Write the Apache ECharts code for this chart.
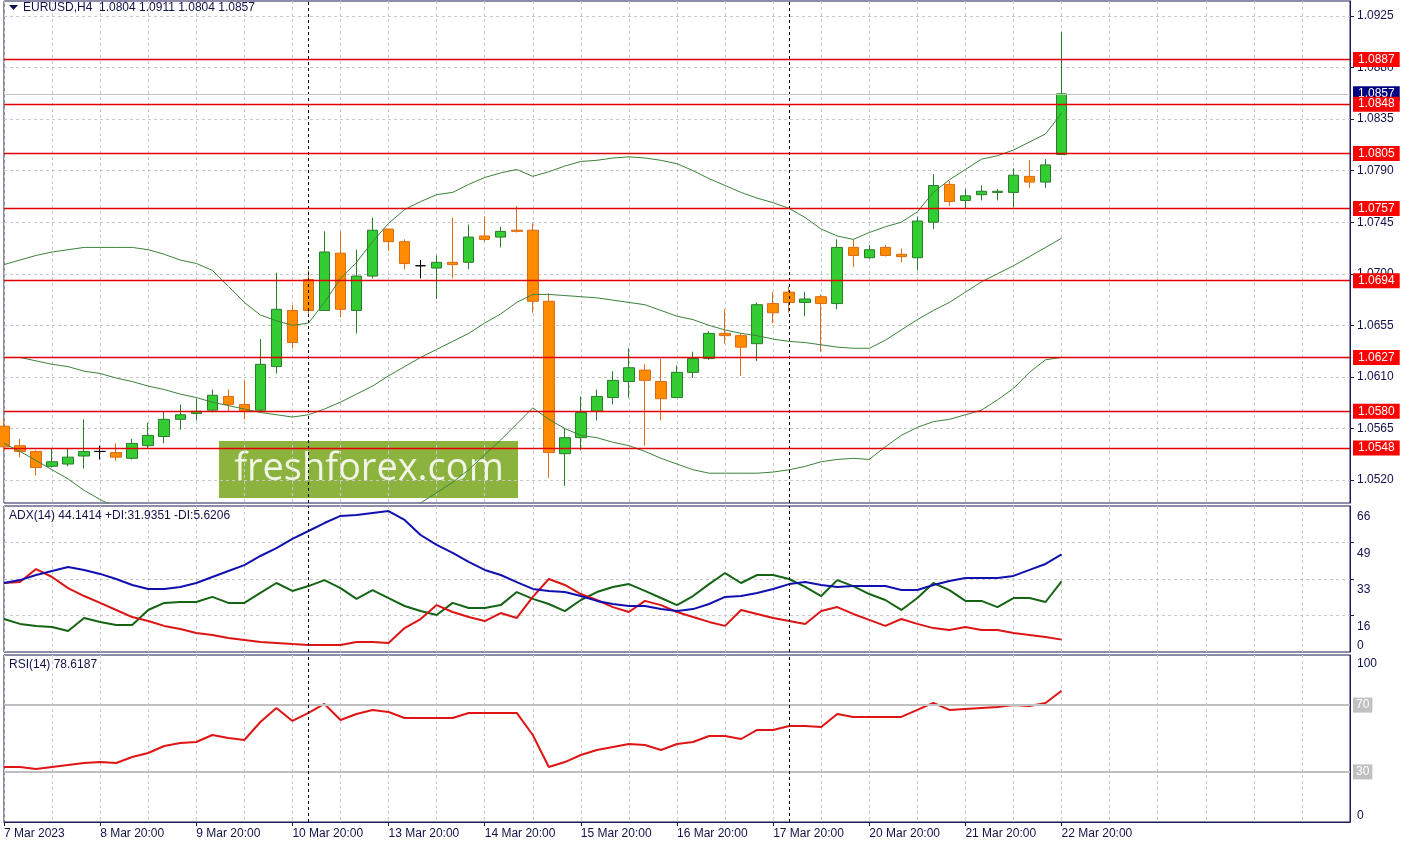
<!DOCTYPE html>
<html>
<head>
<meta charset="utf-8">
<title>EURUSD H4</title>
<script src="https://cdn.jsdelivr.net/npm/echarts@6.0.0/dist/echarts.min.js"></script>
<style>
html,body{margin:0;padding:0;background:#ffffff;}
#chart{width:1410px;height:843px;}
</style>
</head>
<body>
<div id="chart"></div>
<script>
// ---------- time axis ----------
const firstBar = '7 Mar 20:00';
const tradingDays = ['8 Mar','9 Mar','10 Mar','13 Mar','14 Mar','15 Mar','16 Mar','17 Mar','20 Mar','21 Mar','22 Mar'];
const h4Hours = ['00:00','04:00','08:00','12:00','16:00','20:00'];
const firstLabel = '7 Mar 2023';
const separators = ['13 Mar 00:00','20 Mar 00:00'];
const padBars = 18;

// ---------- price candles (H4) ----------
const open = [1.0567,1.0550,1.0545,1.0532,1.0534,1.0541,1.0545,1.0544,1.0539,1.0550,
  1.0558,1.0573,1.0578,1.0581,1.0593,1.0586,1.0581,1.0619,1.0668,1.0695,
  1.0668,1.0718,1.0668,1.0698,1.0739,1.0728,1.0707,1.0705,1.0710,1.0710,
  1.0733,1.0732,1.0738,1.0738,1.0676,1.0543,1.0557,1.0580,1.0592,1.0606,
  1.0616,1.0606,1.0592,1.0614,1.0626,1.0648,1.0646,1.0639,1.0674,1.0684,
  1.0675,1.0680,1.0674,1.0723,1.0714,1.0723,1.0717,1.0714,1.0745,1.0778,
  1.0764,1.0769,1.0771,1.0771,1.0785,1.0780,1.0804];
const close = [1.0549,1.0545,1.0531,1.0536,1.0540,1.0545,1.0545,1.0540,1.0552,1.0559,
  1.0573,1.0577,1.0580,1.0594,1.0586,1.0580,1.0621,1.0669,1.0640,1.0668,
  1.0719,1.0669,1.0698,1.0738,1.0728,1.0709,1.0707,1.0710,1.0708,1.0732,
  1.0730,1.0737,1.0737,1.0676,1.0544,1.0557,1.0579,1.0593,1.0607,1.0618,
  1.0607,1.0591,1.0614,1.0626,1.0648,1.0646,1.0636,1.0673,1.0666,1.0675,
  1.0678,1.0674,1.0723,1.0716,1.0721,1.0716,1.0715,1.0746,1.0777,1.0763,
  1.0768,1.0772,1.0772,1.0786,1.0780,1.0795,1.0857];
const low = [1.0545,1.0540,1.0524,1.0531,1.0532,1.0530,1.0538,1.0537,1.0538,1.0548,
  1.0552,1.0564,1.0572,1.0579,1.0580,1.0573,1.0580,1.0613,1.0635,1.0662,
  1.0668,1.0662,1.0648,1.0696,1.0720,1.0704,1.0696,1.0678,1.0696,1.0704,
  1.0728,1.0723,1.0736,1.0666,1.0522,1.0515,1.0546,1.0572,1.0586,1.0592,
  1.0550,1.0572,1.0592,1.0609,1.0625,1.0639,1.0611,1.0624,1.0657,1.0666,
  1.0663,1.0632,1.0669,1.0706,1.0713,1.0715,1.0710,1.0703,1.0739,1.0759,
  1.0757,1.0764,1.0764,1.0758,1.0775,1.0775,1.0804];
const high = [1.0574,1.0556,1.0546,1.0548,1.0548,1.0573,1.0550,1.0552,1.0556,1.0570,
  1.0580,1.0586,1.0591,1.0599,1.0599,1.0607,1.0643,1.0701,1.0673,1.0703,
  1.0737,1.0737,1.0721,1.0749,1.0739,1.0730,1.0712,1.0716,1.0749,1.0743,
  1.0750,1.0741,1.0759,1.0744,1.0683,1.0565,1.0593,1.0599,1.0615,1.0635,
  1.0621,1.0626,1.0620,1.0632,1.0650,1.0669,1.0648,1.0675,1.0684,1.0689,
  1.0684,1.0682,1.0730,1.0730,1.0725,1.0725,1.0722,1.0750,1.0787,1.0781,
  1.0774,1.0777,1.0774,1.0792,1.0799,1.0800,1.0911];

// ---------- Bollinger bands ----------
const bbUpper = [1.0708,1.0712,1.0716,1.0719,1.0721,1.0723,1.0723,1.0723,1.0723,1.0721,
  1.0717,1.0712,1.0709,1.0703,1.0689,1.0675,1.0664,1.0659,1.0655,1.0657,
  1.0675,1.0696,1.0710,1.0728,1.0744,1.0756,1.0763,1.0769,1.0771,1.0778,
  1.0784,1.0788,1.0791,1.0785,1.0789,1.0794,1.0798,1.0799,1.0801,1.0802,
  1.0801,1.0799,1.0796,1.0790,1.0783,1.0777,1.0771,1.0766,1.0762,1.0757,
  1.0749,1.0739,1.0733,1.0730,1.0736,1.0741,1.0745,1.0754,1.0771,1.0782,
  1.0791,1.0800,1.0803,1.0808,1.0815,1.0822,1.0840];
const bbMiddle = [1.0627,1.0627,1.0624,1.0621,1.0619,1.0615,1.0613,1.0609,1.0606,1.0602,
  1.0599,1.0595,1.0592,1.0588,1.0585,1.0582,1.0579,1.0577,1.0575,1.0577,
  1.0582,1.0588,1.0595,1.0602,1.0611,1.0619,1.0627,1.0634,1.0641,1.0648,
  1.0657,1.0665,1.0675,1.0682,1.0682,1.0681,1.0680,1.0679,1.0677,1.0675,
  1.0673,1.0668,1.0663,1.0660,1.0655,1.0651,1.0648,1.0646,1.0643,1.0641,
  1.0640,1.0638,1.0636,1.0635,1.0635,1.0642,1.0651,1.0660,1.0668,1.0675,
  1.0684,1.0693,1.0700,1.0707,1.0715,1.0723,1.0731];
const bbLower = [1.0552,1.0545,1.0537,1.0529,1.0521,1.0511,1.0503,1.0496,1.0490,1.0485,
  1.0481,1.0478,1.0476,1.0475,1.0479,1.0485,1.0492,1.0495,1.0496,1.0496,
  1.0489,1.0482,1.0480,1.0477,1.0478,1.0487,1.0500,1.0509,1.0518,1.0529,
  1.0542,1.0555,1.0569,1.0583,1.0573,1.0565,1.0559,1.0557,1.0553,1.0550,
  1.0545,1.0539,1.0534,1.0529,1.0526,1.0526,1.0526,1.0526,1.0527,1.0529,
  1.0532,1.0536,1.0538,1.0539,1.0538,1.0549,1.0559,1.0566,1.0571,1.0573,
  1.0577,1.0581,1.0590,1.0600,1.0614,1.0625,1.0627];

// ---------- ADX(14) ----------
const adx = [31.2,32.5,34.8,36.6,38.4,37.1,35.3,33.0,30.3,28.5,
  28.5,29.4,31.2,33.9,36.6,39.3,43.4,47.0,51.1,54.7,
  58.3,61.5,61.9,62.8,63.7,59.7,52.9,48.4,44.8,40.7,
  37.1,34.8,31.6,28.5,27.6,27.1,25.3,23.1,21.7,20.8,
  20.8,19.4,18.5,19.4,21.7,24.9,25.3,26.7,28.5,30.7,
  31.6,30.3,29.4,29.8,29.8,29.8,28.0,28.0,30.3,32.1,
  33.5,33.5,33.5,34.4,37.1,39.8,44.1];
const plusDI = [14.9,12.7,11.8,11.3,9.5,15.4,13.6,12.2,12.2,19.0,
  22.2,22.6,22.6,24.9,22.2,22.2,26.7,31.2,27.6,29.8,
  32.5,28.9,24.0,28.0,24.4,20.8,18.5,16.7,22.2,19.9,
  19.9,21.2,27.1,24.0,21.7,18.5,23.5,27.1,29.4,30.7,
  27.6,24.4,21.2,25.3,30.7,35.7,31.2,34.8,34.8,33.0,
  29.4,25.3,32.5,29.8,26.2,23.5,19.0,24.4,31.2,28.0,
  23.1,23.1,20.3,24.4,24.4,22.6,31.9];
const minusDI = [31.2,31.6,37.5,33.9,28.9,25.3,22.2,19.0,15.8,14.0,
  11.8,10.4,8.6,7.7,6.3,5.4,4.5,4.1,3.6,3.2,
  3.2,3.2,4.5,4.5,4.1,10.8,14.9,21.2,18.1,15.8,
  14.0,17.6,15.4,24.9,33.0,30.3,26.2,23.5,20.3,18.1,
  23.1,21.2,18.1,15.8,13.6,11.8,19.0,17.2,15.4,14.0,
  12.7,18.5,20.3,17.2,14.5,11.8,14.9,12.7,10.8,9.9,
  11.3,9.9,9.9,8.6,7.7,6.8,5.6];

// ---------- RSI(14) ----------
const rsi = [32.9,32.9,31.7,32.9,34.1,35.3,35.9,35.3,38.9,41.3,
  45.5,47.3,47.9,52.1,50.3,49.1,59.9,68.3,60.5,65.3,
  70.7,61.1,64.7,67.1,65.9,62.3,62.3,62.3,62.3,65.3,
  65.3,65.3,65.3,52.1,32.9,35.9,40.1,43.1,44.9,46.7,
  46.1,43.1,46.7,47.9,51.5,51.5,49.7,55.1,55.1,57.5,
  57.5,56.9,64.7,62.9,62.9,62.9,62.9,67.1,71.3,67.1,
  67.7,68.3,68.9,70.1,69.5,71.3,78.6];

// ---------- levels & ticks ----------
const levels = [1.0887,1.0848,1.0805,1.0757,1.0694,1.0627,1.0580,1.0548];
const priceTicks = [1.0520,1.0565,1.0610,1.0655,1.0700,1.0745,1.0790,1.0835,1.0880,1.0925];
const adxTicks = [16.5,33,49.5,66];
const rsiLevels = [70,30];
const adxTitle = 'ADX(14) 44.1414 +DI:31.9351 -DI:5.6206';
const rsiTitle = 'RSI(14) 78.6187';

// ---------- build ----------
const categories = [firstBar];
tradingDays.forEach(d => h4Hours.forEach(h => categories.push(d + ' ' + h)));
for (let k = 0; k < padBars; k++) categories.push('pad' + k);
const ohlc = open.map((o, i) => [o, close[i], low[i], high[i]]);
const last = open.length - 1;

const FONT = '"Liberation Sans", Arial, "DejaVu Sans", sans-serif';
const INK = '#10104a';
const FRAME = '#1b1b55';
const GRIDC = '#c8c8c8';

const sepMarkLine = {
  silent: true, symbol: ['none', 'none'], animation: false,
  label: {show: false},
  lineStyle: {color: '#000000', type: [3, 3], width: 1},
  data: separators.map(s => ({xAxis: s}))
};

const labelTick = (i) => i <= last && i % 6 === 0;

function xAxisFor(gi, showLabels) {
  return {
    type: 'category', gridIndex: gi, data: categories, boundaryGap: false,
    axisLine: {show: showLabels, lineStyle: {color: FRAME}},
    axisTick: {show: showLabels, interval: labelTick, length: 4, lineStyle: {color: FRAME}},
    axisLabel: {
      show: showLabels, interval: labelTick, align: 'left', margin: 6,
      color: INK, fontSize: 12, fontFamily: FONT,
      formatter: (v, i) => i === 0 ? firstLabel : v
    },
    splitLine: {show: true, interval: 2, lineStyle: {color: GRIDC, type: [3, 3], width: 1}}
  };
}
const labelBase = {color: INK, fontSize: 12, fontFamily: FONT, margin: 7};

const levelItems = levels.map(v => ({
  yAxis: v,
  lineStyle: {color: '#e00000', width: 1.3, type: 'solid', opacity: 1},
  label: {backgroundColor: '#ff0000'}
}));
levelItems.unshift({
  yAxis: close[last],
  lineStyle: {color: '#c4c4c4', width: 1, type: 'solid'},
  label: {backgroundColor: '#000080'}
});

const option = {
  animation: false,
  backgroundColor: '#ffffff',
  title: [
    {text: 'EURUSD,H4  ' + [open[last], high[last], low[last], close[last]].map(v => v.toFixed(4)).join(' '),
     left: 23, top: 2, padding: 0,
     textStyle: {color: INK, fontSize: 12, fontWeight: 'normal', fontFamily: FONT}},
    {text: adxTitle, left: 9, top: 510, padding: 0,
     textStyle: {color: INK, fontSize: 12, fontWeight: 'normal', fontFamily: FONT}},
    {text: rsiTitle, left: 9, top: 659, padding: 0,
     textStyle: {color: INK, fontSize: 12, fontWeight: 'normal', fontFamily: FONT}}
  ],
  graphic: [
    {type: 'polygon', shape: {points: [[9, 5], [18, 5], [13.5, 10]]}, style: {fill: INK}, z: 60},
    {type: 'group', left: 219, top: 441, z: 60, children: [
      {type: 'rect', shape: {x: 0, y: 0, width: 299, height: 57}, style: {fill: '#8cb33e'}},
      {type: 'text', x: 150, y: 28,
       style: {text: 'freshforex.com', fill: 'rgba(255,255,255,0.88)', fontSize: 38,
               fontFamily: '"Open Sans", "Noto Sans", sans-serif', align: 'center', verticalAlign: 'middle'}}
    ]}
  ],
  grid: [
    {left: 4, right: 60, top: 1, height: 502, show: true, borderColor: FRAME, borderWidth: 1, backgroundColor: '#fff', containLabel: false},
    {left: 4, right: 60, top: 506, height: 146, show: true, borderColor: FRAME, borderWidth: 1, backgroundColor: '#fff', containLabel: false},
    {left: 4, right: 60, top: 655, height: 167, show: true, borderColor: FRAME, borderWidth: 1, backgroundColor: '#fff', containLabel: false}
  ],
  xAxis: [xAxisFor(0, false), xAxisFor(1, false), xAxisFor(2, true)],
  yAxis: [
    {type: 'value', gridIndex: 0, position: 'right', min: 1.0500, max: 1.0938,
     axisLine: {show: true, lineStyle: {color: FRAME}},
     axisTick: {show: true, length: 4, customValues: priceTicks, lineStyle: {color: FRAME}},
     axisLabel: Object.assign({customValues: priceTicks, formatter: v => Number(v).toFixed(4)}, labelBase),
     splitLine: {show: true, lineStyle: {color: GRIDC, type: [3, 3], width: 1}}},
    {type: 'value', gridIndex: 1, position: 'right', min: 0, max: 66,
     axisLine: {show: true, lineStyle: {color: FRAME}},
     axisTick: {show: true, length: 4, customValues: [16.5, 33, 49.5], lineStyle: {color: FRAME}},
     axisLabel: Object.assign({customValues: adxTicks, verticalAlign: 'top', padding: [5, 0, 0, 0],
                               formatter: v => String(Math.floor(v))}, labelBase),
     splitLine: {show: true, lineStyle: {color: GRIDC, type: [3, 3], width: 1}}},
    {type: 'value', gridIndex: 1, position: 'right', min: 0, max: 66,
     axisLine: {show: false}, axisTick: {show: false}, splitLine: {show: false},
     axisLabel: Object.assign({customValues: [0], verticalAlign: 'bottom'}, labelBase)},
    {type: 'value', gridIndex: 2, position: 'right', min: 0, max: 100,
     axisLine: {show: true, lineStyle: {color: FRAME}}, axisTick: {show: false}, splitLine: {show: false},
     axisLabel: Object.assign({customValues: [100], verticalAlign: 'top', padding: [3, 0, 0, 0]}, labelBase)},
    {type: 'value', gridIndex: 2, position: 'right', min: 0, max: 100,
     axisLine: {show: false}, axisTick: {show: false}, splitLine: {show: false},
     axisLabel: Object.assign({customValues: [0], verticalAlign: 'bottom'}, labelBase)}
  ],
  series: [
    {type: 'candlestick', name: 'EURUSD', xAxisIndex: 0, yAxisIndex: 0, data: ohlc, barWidth: 11, z: 2,
     itemStyle: {color: '#33cc33', color0: '#ff8c00', borderColor: '#2a7b2a', borderColor0: '#de6a12',
                 borderColorDoji: '#000000', borderWidth: 1},
     markLine: sepMarkLine},
    {type: 'line', name: 'BB upper', xAxisIndex: 0, yAxisIndex: 0, data: bbUpper, symbol: 'none', z: 3,
     lineStyle: {color: '#3a833a', width: 1},
     markLine: {
       silent: true, symbol: ['none', 'none'], animation: false, z: 6, precision: 4,
       emphasis: {disabled: true},
       label: {show: true, position: 'end', distance: 3, color: '#ffffff', fontSize: 12, fontFamily: FONT,
               padding: [2, 5, 1, 5], formatter: p => Number(p.value).toFixed(4)},
       data: levelItems
     }},
    {type: 'line', name: 'BB middle', xAxisIndex: 0, yAxisIndex: 0, data: bbMiddle, symbol: 'none', z: 3,
     lineStyle: {color: '#3a833a', width: 1}},
    {type: 'line', name: 'BB lower', xAxisIndex: 0, yAxisIndex: 0, data: bbLower, symbol: 'none', z: 3,
     lineStyle: {color: '#3a833a', width: 1}},
    {type: 'line', name: '+DI', xAxisIndex: 1, yAxisIndex: 1, data: plusDI, symbol: 'none', z: 3,
     lineStyle: {color: '#146414', width: 2}, markLine: sepMarkLine},
    {type: 'line', name: '-DI', xAxisIndex: 1, yAxisIndex: 1, data: minusDI, symbol: 'none', z: 3,
     lineStyle: {color: '#dd1414', width: 2}},
    {type: 'line', name: 'ADX', xAxisIndex: 1, yAxisIndex: 1, data: adx, symbol: 'none', z: 4,
     lineStyle: {color: '#1010b0', width: 2}},
    {type: 'line', name: 'RSI', xAxisIndex: 2, yAxisIndex: 3, data: rsi, symbol: 'none', z: 3,
     lineStyle: {color: '#e01414', width: 2},
     markLine: {
       silent: true, symbol: ['none', 'none'], animation: false, precision: 0,
       data: rsiLevels.map(v => ({yAxis: v, lineStyle: {color: '#c0c0c0', width: 2, type: 'solid'},
              label: {show: true, position: 'end', distance: 3, color: '#ffffff', backgroundColor: '#c0c0c0',
                      fontSize: 12, fontFamily: FONT, padding: [2, 3, 1, 3], formatter: String(v)}}))
         .concat(separators.map(s => ({xAxis: s, lineStyle: {color: '#000', type: [3, 3], width: 1}, label: {show: false}})))
     }}
  ]
};

const chart = echarts.init(document.getElementById('chart'), null, {renderer: 'canvas', width: 1410, height: 843});
chart.setOption(option);
</script>
</body>
</html>
